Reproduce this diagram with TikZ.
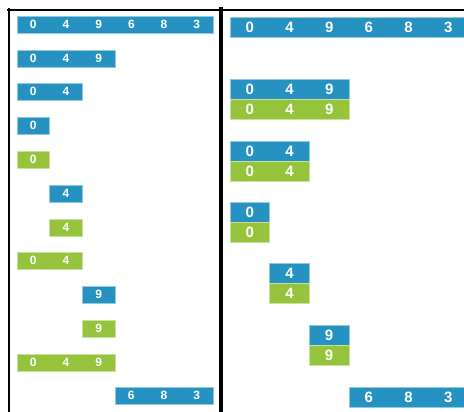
\documentclass[tikz,border=0pt]{standalone}
\usepackage{fontspec}
\setmainfont{Liberation Sans}
\usetikzlibrary{calc}
\definecolor{cblue}{HTML}{2692C2}
\definecolor{cgreen}{HTML}{95C43C}
\tikzset{
  barbox/.style={rectangle, inner sep=0pt, outer sep=0pt, anchor=north west, line width=0.5pt},
  bluebar/.style={barbox, fill=cblue, draw=cblue!50!white},
  greenbar/.style={barbox, fill=cgreen, draw=cgreen!50!white},
  digit/.style={text=white, inner sep=0pt, anchor=center},
  frameline/.style={black, line cap=rect},
}
% name, x, y, ncells, cellw, cellh, style, digits
\newcommand{\mkbar}[8]{%
  \node[#7, minimum width={#4*#5}, minimum height={#6}] (#1) at (#2,#3) {};
  \foreach \d [count=\i] in {#8} {%
    \node[digit] (#1-\i) at ($(#1.north west)+({(\i-0.5)*#5},{#6/2})$) {\d};
  }%
}
\begin{document}
\begin{tikzpicture}[x=1pt,y=-1pt]
\useasboundingbox (0,0) rectangle (464,412);
\fill[white] (0,0) rectangle (464,412);
% frames
\coordinate (tl) at (8,10);
\coordinate (tr) at (464,10);
\coordinate (lt) at (9,9);
\coordinate (lb) at (9,413);
\coordinate (mt) at (221,9);
\coordinate (mb) at (221,413);
\draw[frameline, line width=2pt] (tl) -- (tr);
\draw[frameline, line width=2pt] (lt) -- (lb);
\draw[frameline, line width=3.6pt] (mt) -- (mb);
% left panel
\begin{scope}[font=\fontsize{12}{13}\selectfont\bfseries]
\mkbar{L1}{17}{16}{6}{32.67}{17}{bluebar}{0,4,9,6,8,3}
\mkbar{L2}{17}{50}{3}{32.67}{17}{bluebar}{0,4,9}
\mkbar{L3}{17}{83}{2}{32.67}{17}{bluebar}{0,4}
\mkbar{L4}{17}{117}{1}{32.67}{17}{bluebar}{0}
\mkbar{L5}{17}{151}{1}{32.67}{17}{greenbar}{0}
\mkbar{L6}{49.67}{185}{1}{32.67}{17}{bluebar}{4}
\mkbar{L7}{49.67}{219}{1}{32.67}{17}{greenbar}{4}
\mkbar{L8}{17}{252}{2}{32.67}{17}{greenbar}{0,4}
\mkbar{L9}{82.33}{286}{1}{32.67}{17}{bluebar}{9}
\mkbar{L10}{82.33}{320}{1}{32.67}{17}{greenbar}{9}
\mkbar{L11}{17}{354}{3}{32.67}{17}{greenbar}{0,4,9}
\mkbar{L12}{115}{387}{3}{32.67}{17}{bluebar}{6,8,3}
\end{scope}
% right panel
\begin{scope}[font=\fontsize{15}{16}\selectfont\bfseries]
\mkbar{R1}{230}{17}{6}{39.67}{20.3}{bluebar}{0,4,9,6,8,3}
\mkbar{R2}{230}{79}{3}{39.67}{20.3}{bluebar}{0,4,9}
\mkbar{R2g}{230}{99.3}{3}{39.67}{20.3}{greenbar}{0,4,9}
\mkbar{R3}{230}{141}{2}{39.67}{20.3}{bluebar}{0,4}
\mkbar{R3g}{230}{161.3}{2}{39.67}{20.3}{greenbar}{0,4}
\mkbar{R4}{230}{202}{1}{39.67}{20.3}{bluebar}{0}
\mkbar{R4g}{230}{222.3}{1}{39.67}{20.3}{greenbar}{0}
\mkbar{R5}{269.67}{263}{1}{39.67}{20.3}{bluebar}{4}
\mkbar{R5g}{269.67}{283.3}{1}{39.67}{20.3}{greenbar}{4}
\mkbar{R6}{309.33}{325}{1}{39.67}{20.3}{bluebar}{9}
\mkbar{R6g}{309.33}{345.3}{1}{39.67}{20.3}{greenbar}{9}
\mkbar{R7}{349}{387}{3}{39.67}{20.3}{bluebar}{6,8,3}
\end{scope}
\end{tikzpicture}
\end{document}
